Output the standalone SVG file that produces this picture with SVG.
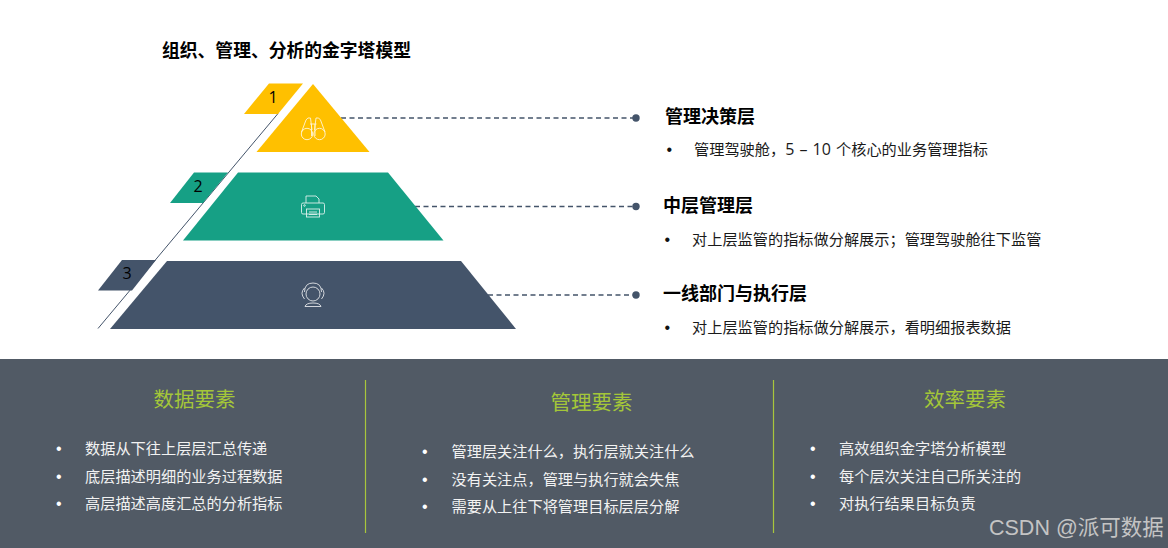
<svg xmlns="http://www.w3.org/2000/svg" width="1168" height="548" viewBox="0 0 1168 548">
<style>
text{font-family:"Noto Sans CJK SC","Noto Sans",sans-serif}
.title{font-size:18px;font-weight:700;fill:#000}
.desc{font-size:15.200px;fill:#1a1a1a}
.lat{font-family:"Open Sans","Noto Sans",sans-serif;font-size:16px;word-spacing:1px}
.bul{font-size:16px;fill:#111;font-family:"Liberation Sans",sans-serif}
.num{font-size:16px;fill:#000;font-family:"Open Sans","Noto Sans",sans-serif;text-anchor:middle}
.hd{font-size:20.500px;fill:#a4c639;text-anchor:middle}
.li{font-size:15.200px;fill:#f2f2f2}
.lb{font-size:16px;fill:#fff;font-family:"Liberation Sans",sans-serif}
.dash{fill:none;stroke:#44546a;stroke-width:1.300;stroke-dasharray:5 3.500}
.dot{fill:#44546a}
.ico{fill:none;stroke:#fff;stroke-width:.9;opacity:.85}
.sep{stroke:#a8c63c;stroke-width:1.200}
</style>
<rect width="1168" height="548" fill="#fff"/>
<text x="162" y="56.500" font-size="17.800" font-weight="700" fill="#000">组织、管理、分析的金字塔模型</text>

<g id="connectors">
<path d="M98 328.500L278 113.500" fill="none" stroke="#44546a" stroke-width="1"/>
<path class="dash" d="M341 118H636"/><circle class="dot" cx="636" cy="118" r="3.700"/>
<path class="dash" d="M415 206.500H636"/><circle class="dot" cx="636" cy="206.500" r="3.700"/>
<path class="dash" d="M488 295H636"/><circle class="dot" cx="636" cy="295" r="3.700"/>
</g>

<g id="tier-1">
<path d="M269 83.500H303L278 114H244Z" fill="#ffc000"/>
<text class="num" x="273" y="103">1</text>
<path d="M313 84L369.500 152H256.500Z" fill="#ffc000"/>
<g class="ico">
<circle cx="307" cy="134" r="5.700"/><circle cx="319.500" cy="134" r="5.700"/>
<path d="M301.500 132L306 120Q307.500 117 310.500 118L312 130M325 132L320.500 120Q319 117 316 118L314.500 130M310 124H316.500M311.500 124V136M315 124V136"/>
</g>
</g>

<g id="tier-2">
<path d="M194 172.500H228L203 203H170Z" fill="#16a085"/>
<text class="num" x="198" y="192">2</text>
<path d="M238 172.500H388L443.500 240.500H183Z" fill="#16a085"/>
<g class="ico">
<path d="M306 203V196H316L319 199V203"/>
<rect x="301.500" y="203" width="23" height="11" rx="1.500"/>
<rect x="306.500" y="209" width="13" height="8"/>
<path d="M309 212H317M309 214.500H317"/>
<circle cx="304.500" cy="205.500" r="0.800"/>
</g>
</g>

<g id="tier-3">
<path d="M122 260H156L132 290.500H98Z" fill="#44546a"/>
<text class="num" x="127" y="279">3</text>
<path d="M167 261H461L516 329H110Z" fill="#44546a"/>
<g class="ico">
<circle cx="313" cy="294" r="7"/>
<path d="M304.500 292Q304.500 283 313 283Q321.500 283 321.500 292"/>
<path d="M304.500 288Q299.500 293 304.500 299M321.500 288Q326.500 293 321.500 299"/>
<path d="M305 306.500Q306 303 313 303Q320 303 321 306.500Z"/>
</g>
</g>

<g id="label-1">
<text class="title" x="665" y="123">管理决策层</text>
<text class="bul" x="666.500" y="155">•</text>
<text class="desc" x="694" y="155">管理驾驶舱，<tspan class="lat">5 – 10 </tspan>个核心的业务管理指标</text>
</g>
<g id="label-2">
<text class="title" x="663" y="212">中层管理层</text>
<text class="bul" x="664.500" y="245">•</text>
<text class="desc" x="692" y="245">对上层监管的指标做分解展示；管理驾驶舱往下监管</text>
</g>
<g id="label-3">
<text class="title" x="663" y="300">一线部门与执行层</text>
<text class="bul" x="664.500" y="333">•</text>
<text class="desc" x="692" y="333">对上层监管的指标做分解展示，看明细报表数据</text>
</g>

<rect x="0" y="359" width="1168" height="189" fill="#515a65"/>
<path class="sep" d="M365.500 380V533M773.500 380V533"/>

<g id="panel-data">
<text class="hd" x="194.500" y="406.500">数据要素</text>
<text class="lb" x="56" y="454">•</text><text class="li" x="85" y="454">数据从下往上层层汇总传递</text>
<text class="lb" x="56" y="482">•</text><text class="li" x="85" y="482">底层描述明细的业务过程数据</text>
<text class="lb" x="56" y="509">•</text><text class="li" x="85" y="509">高层描述高度汇总的分析指标</text>
</g>
<g id="panel-management">
<text class="hd" x="591.500" y="409.500">管理要素</text>
<text class="lb" x="422" y="457">•</text><text class="li" x="451.500" y="457">管理层关注什么，执行层就关注什么</text>
<text class="lb" x="422" y="485">•</text><text class="li" x="451.500" y="485">没有关注点，管理与执行就会失焦</text>
<text class="lb" x="422" y="512">•</text><text class="li" x="451.500" y="512">需要从上往下将管理目标层层分解</text>
</g>
<g id="panel-efficiency">
<text class="hd" x="965" y="406.500">效率要素</text>
<text class="lb" x="810" y="454">•</text><text class="li" x="839" y="454">高效组织金字塔分析模型</text>
<text class="lb" x="810" y="482">•</text><text class="li" x="839" y="482">每个层次关注自己所关注的</text>
<text class="lb" x="810" y="509">•</text><text class="li" x="839" y="509">对执行结果目标负责</text>
</g>
<text x="989" y="534.500" font-size="21.500" fill="#c4c4c4" style="font-family:'Liberation Sans','Noto Sans CJK SC',sans-serif">CSDN @派可数据</text>
</svg>
